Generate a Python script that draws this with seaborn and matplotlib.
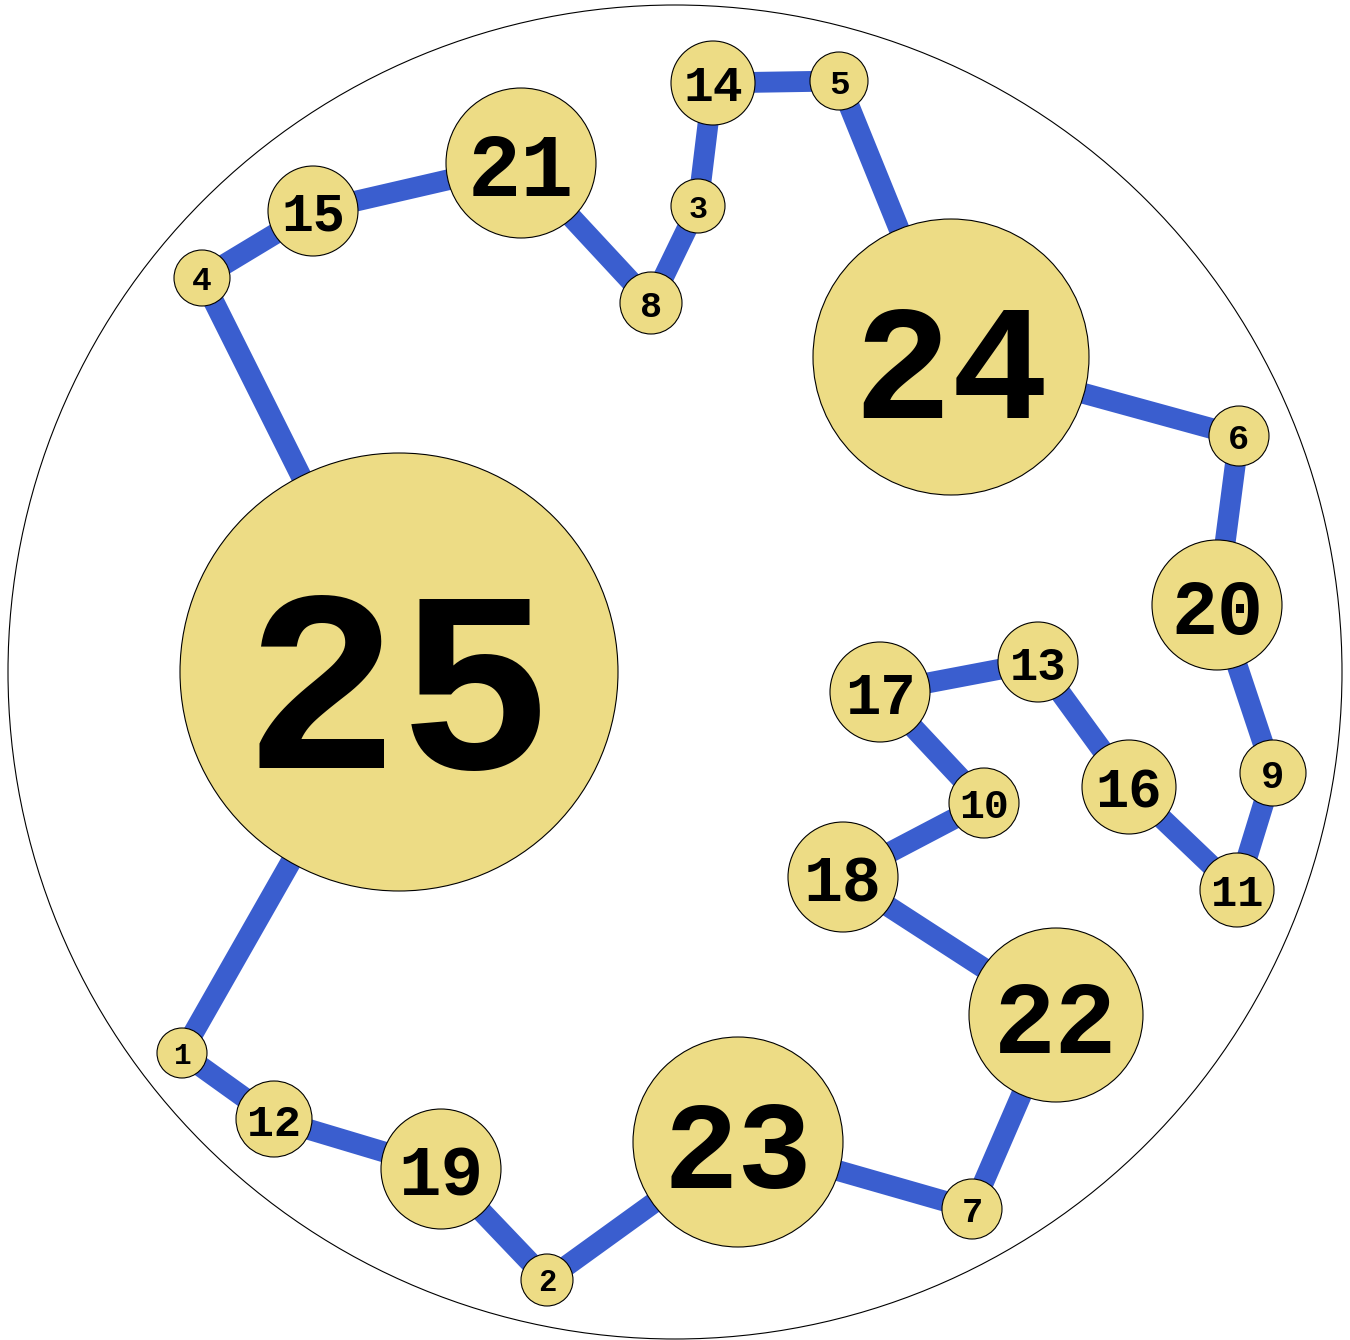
import matplotlib
matplotlib.use("Agg")
import matplotlib.pyplot as plt
import seaborn as sns
import pandas as pd
from matplotlib.patches import Circle

# node values, centres and radii (pixel space of the original picture)
labels = [1, 12, 19, 2, 23, 7, 22, 18, 10, 17, 13, 16, 11, 9, 20, 6, 24, 5, 14, 3, 8, 21, 15, 4, 25]
xs = [182, 274, 441, 547, 738, 972, 1056, 843, 984, 880, 1038, 1129, 1237, 1273, 1217, 1239, 951, 839, 713, 698, 651, 521, 313, 202, 399]
ys = [1053, 1119, 1169, 1280, 1142, 1209, 1015, 877, 803, 692, 662, 787, 890, 773, 605, 436, 357, 81, 83, 206, 303, 163, 211, 278, 672]
radii = [25, 38, 60, 26, 105, 30, 87, 55, 35, 50, 40, 47, 37, 33, 65, 30, 138, 29, 42, 27, 31, 75, 45, 28, 219]

outer_center = (675, 672)
outer_radius = 667

line_color = "#3a5ecf"
fill_color = "#eddc85"

sns.set_theme(style="white")

fig = plt.figure(figsize=(13.5, 13.4), dpi=100)
ax = fig.add_axes([0, 0, 1, 1])

# closed path through all nodes
path = pd.DataFrame({"x": xs + [xs[0]], "y": ys + [ys[0]], "step": range(len(xs) + 1)})
sns.lineplot(data=path, x="x", y="y", sort=False, estimator=None, color=line_color,
             linewidth=15, solid_capstyle="butt", ax=ax, zorder=2)

ax.add_patch(Circle(outer_center, outer_radius, facecolor="none", edgecolor="black", linewidth=0.8, zorder=1))

for lab, x, y, r in zip(labels, xs, ys, radii):
    ax.add_patch(Circle((x, y), r, facecolor=fill_color, edgecolor="black", linewidth=0.8, zorder=3))
    # baseline placed so the digits sit just below the circle centre
    ax.text(x, y + 0.44 * r, str(lab), ha="center", va="baseline", fontsize=r * 0.85,
            family="Liberation Mono", fontweight="bold", color="black", zorder=4)

ax.set_xlim(0, 1350)
ax.set_ylim(1340, 0)
ax.set_aspect("equal")
ax.axis("off")

fig.savefig("out.png", dpi=100)
